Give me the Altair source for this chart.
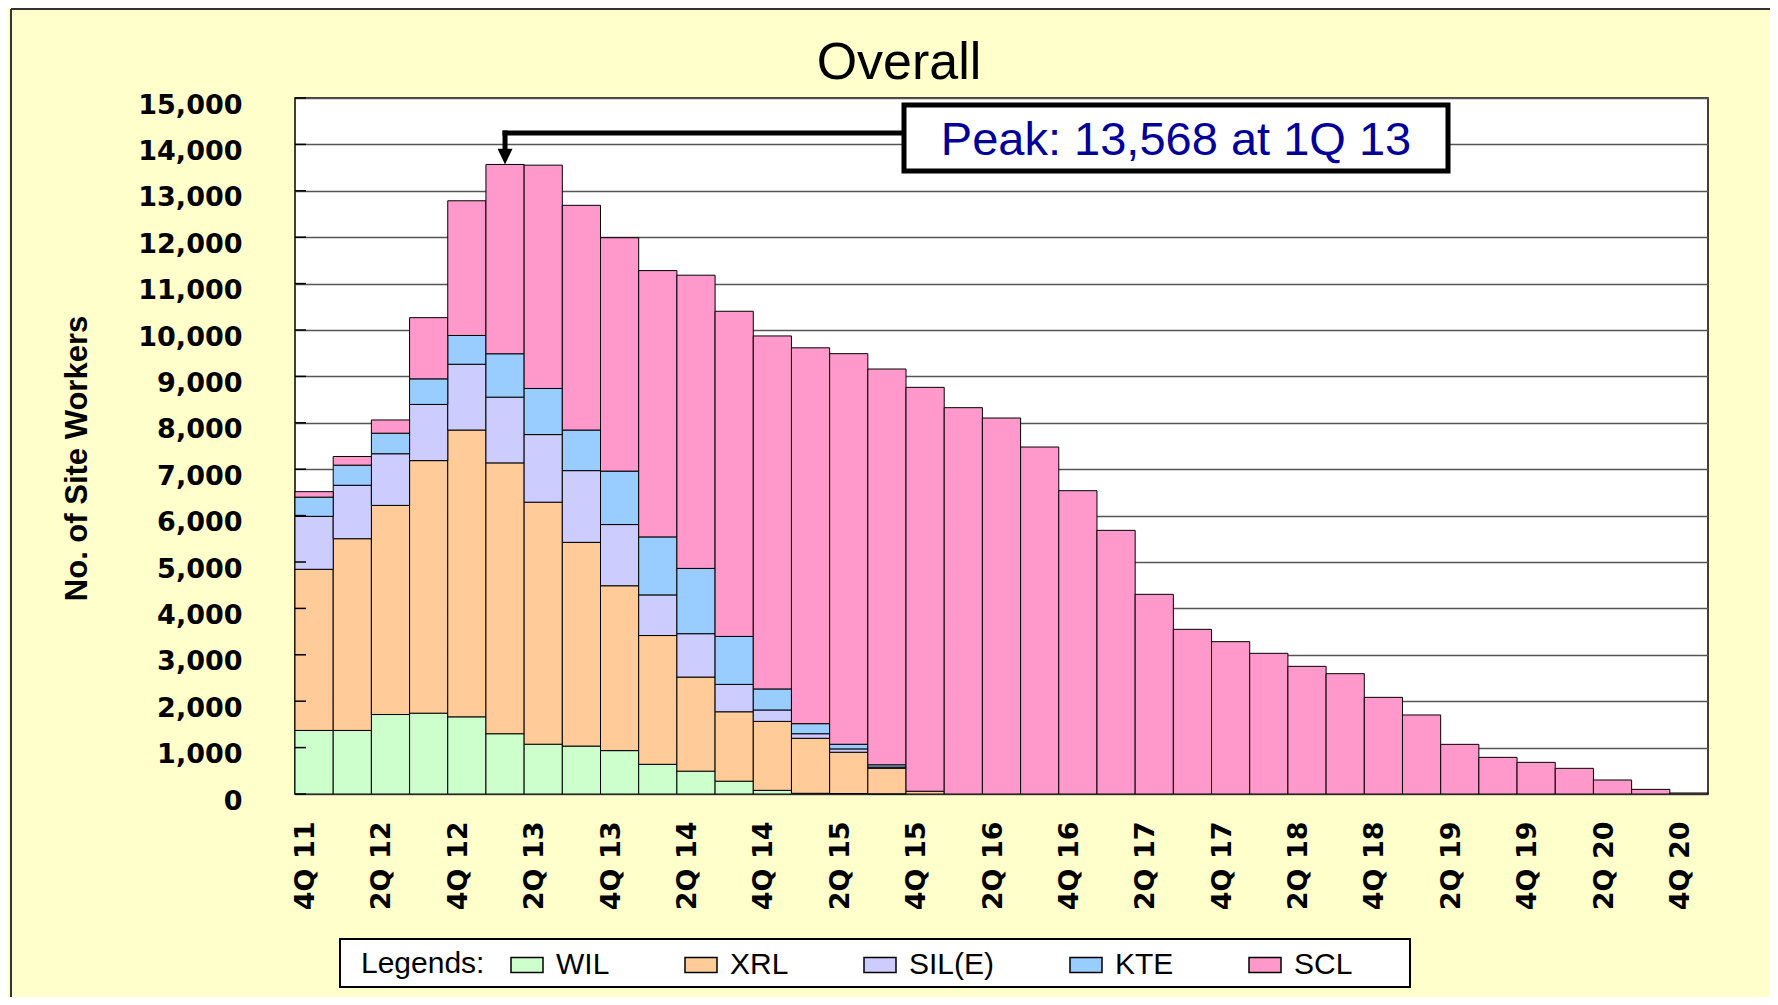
import altair as alt
import pandas as pd

# ---------------- data ----------------
quarters = ["4Q 11", "1Q 12", "2Q 12", "3Q 12", "4Q 12", "1Q 13", "2Q 13", "3Q 13",
            "4Q 13", "1Q 14", "2Q 14", "3Q 14", "4Q 14", "1Q 15", "2Q 15", "3Q 15",
            "4Q 15", "1Q 16", "2Q 16", "3Q 16", "4Q 16", "1Q 17", "2Q 17", "3Q 17",
            "4Q 17", "1Q 18", "2Q 18", "3Q 18", "4Q 18", "1Q 19", "2Q 19", "3Q 19",
            "4Q 19", "1Q 20", "2Q 20", "3Q 20", "4Q 20"]

WIL = [1370, 1370, 1713, 1742, 1663, 1299, 1073, 1033, 935, 640, 492, 276, 79, 15, 10, 5,
       0, 0, 0, 0, 0, 0, 0, 0, 0, 0, 0, 0, 0, 0, 0, 0, 0, 0, 0, 0, 0]
XRL = [3473, 4132, 4507, 5443, 6181, 5837, 5216, 4390, 3553, 2775, 2028, 1496, 1486, 1186, 890, 550,
       60, 0, 0, 0, 0, 0, 0, 0, 0, 0, 0, 0, 0, 0, 0, 0, 0, 0, 0, 0, 0]
SIL = [1141, 1152, 1113, 1211, 1418, 1417, 1457, 1546, 1319, 876, 935, 590, 246, 98, 72, 25,
       0, 0, 0, 0, 0, 0, 0, 0, 0, 0, 0, 0, 0, 0, 0, 0, 0, 0, 0, 0, 0]
KTE = [414, 433, 443, 551, 620, 935, 994, 875, 1152, 1250, 1407, 1034, 453, 217, 100, 50,
       0, 0, 0, 0, 0, 0, 0, 0, 0, 0, 0, 0, 0, 0, 0, 0, 0, 0, 0, 0, 0]
SCL = [118, 187, 285, 1319, 2903, 4080, 4813, 4843, 5029, 5739, 6319, 7008, 7608, 8100, 8418, 8529,
       8704, 8326, 8103, 7478, 6537, 5682, 4303, 3549, 3283, 3032, 2751, 2593, 2083, 1703, 1070, 790,
       682, 553, 302, 100, 22]

series_names = ["WIL", "XRL", "SIL(E)", "KTE", "SCL"]
series_colors = ["#CCFFCC", "#FFCC99", "#CCCCFF", "#99CCFF", "#FF99CC"]
y_ticks = [0, 1000, 2000, 3000, 4000, 5000, 6000, 7000, 8000, 9000, 10000,
           11000, 12000, 13000, 14000, 15000]
label_quarters = quarters[::2]
peak_value = 13568
peak_quarter = "1Q 13"
chart_title = "Overall"
y_title = "No. of Site Workers"
legend_title = "Legends:"

# ---------------- tables ----------------
rows = []
for idx, (name, vals) in enumerate(zip(series_names, [WIL, XRL, SIL, KTE, SCL])):
    for q, v in zip(quarters, vals):
        if v > 0:
            rows.append({"quarter": q, "series": name, "workers": v, "order": idx})
df = pd.DataFrame(rows)
ticks_df = pd.DataFrame({"workers": y_ticks})
peak_df = pd.DataFrame({"quarter": [peak_quarter], "workers": [peak_value],
                        "label": [f"Peak: {peak_value:,} at {peak_quarter}"]})
one_df = pd.DataFrame({"t": [chart_title]})

x_scale = alt.Scale(domain=quarters, paddingInner=0, paddingOuter=0)
y_scale = alt.Scale(domain=[0, 15000], nice=False)

# frame lines (left and top edge of the slide frame)
frame_left = alt.Chart(one_df).mark_rule(color="#333333", strokeWidth=2).encode(
    x=alt.value(-284), y=alt.value(-89), y2=alt.value(1000))
frame_top = alt.Chart(one_df).mark_rule(color="#333333", strokeWidth=2).encode(
    x=alt.value(-284), x2=alt.value(1700), y=alt.value(-89))

title_text = alt.Chart(one_df).mark_text(
    font="Liberation Sans", fontSize=52, color="black", align="center", baseline="alphabetic"
).encode(x=alt.value(604), y=alt.value(-19), text="t:N")

legend_box = alt.Chart(one_df).mark_rect(fill="white", stroke="black", strokeWidth=2).encode(
    x=alt.value(45), x2=alt.value(1115), y=alt.value(841), y2=alt.value(889))

bars = alt.Chart(df).mark_bar(stroke="black", strokeWidth=1).encode(
    x=alt.X("quarter:N", scale=x_scale,
            axis=alt.Axis(values=label_quarters, labelAngle=270, labelAlign="right",
                          labelBaseline="middle", labelFont="DejaVu Sans", labelFontWeight="bold",
                          labelFontSize=27, labelColor="black", labelPadding=27, labelOffset=-8,
                          labelOverlap=False, ticks=False, domain=False, grid=False, title=None)),
    y=alt.Y("workers:Q", stack="zero", scale=y_scale,
            axis=alt.Axis(values=y_ticks, format=",d", labelFont="DejaVu Sans",
                          labelFontWeight="bold", labelFontSize=27, labelColor="black",
                          labelPadding=53, labelOffset=7, labelOverlap=False, ticks=False,
                          domain=False, grid=True, gridColor="#555555", gridWidth=1.5,
                          title=y_title, titleFont="Liberation Sans", titleFontSize=31,
                          titleFontWeight="bold", titleColor="black", titleAngle=270,
                          titleX=-218, titleY=360, titleAlign="center", titleBaseline="middle")),
    color=alt.Color("series:N", scale=alt.Scale(domain=series_names, range=series_colors),
                    legend=alt.Legend(title=legend_title, orient="none", legendX=66, legendY=850,
                                      direction="horizontal", columns=5, titleOrient="left",
                                      titleFont="Liberation Sans", titleFontSize=30,
                                      titleFontWeight="normal", titleColor="black", titlePadding=25,
                                      labelFont="Liberation Sans", labelFontSize=30,
                                      labelColor="black", labelOffset=12, columnPadding=72,
                                      symbolType="M-1,-0.47H1V0.47H-1Z", symbolSize=1024,
                                      symbolStrokeColor="black", symbolStrokeWidth=1.5,
                                      symbolOpacity=1, padding=0)),
    order=alt.Order("order:Q", sort="ascending"),
)

inner_ticks = alt.Chart(ticks_df).mark_rule(color="black", strokeWidth=1.5).encode(
    y=alt.Y("workers:Q", scale=y_scale), x=alt.value(0), x2=alt.value(11))

conn_v = alt.Chart(peak_df).mark_rule(color="black", strokeWidth=5, strokeCap="square", yOffset=-14).encode(
    x=alt.X("quarter:N", scale=x_scale),
    y=alt.Y("workers:Q", scale=y_scale), y2=alt.value(35))

conn_h = alt.Chart(peak_df).mark_rule(color="black", strokeWidth=5, strokeCap="square").encode(
    x=alt.X("quarter:N", scale=x_scale), x2=alt.value(609), y=alt.value(35))

arrow = alt.Chart(peak_df).mark_point(shape="M-1,-2.1L1,-2.1L0,0Z", size=225, filled=True,
                                      color="black", opacity=1).encode(
    x=alt.X("quarter:N", scale=x_scale),
    y=alt.Y("workers:Q", scale=y_scale))

box = alt.Chart(peak_df).mark_rect(fill="white", stroke="black", strokeWidth=5).encode(
    x=alt.value(609), x2=alt.value(1153), y=alt.value(7), y2=alt.value(73))

box_text = alt.Chart(peak_df).mark_text(font="Liberation Sans", fontSize=47, color="#000099",
                                        align="center", baseline="middle").encode(
    x=alt.value(881), y=alt.value(43), text="label:N")

chart = alt.layer(bars, frame_left, frame_top, title_text, legend_box, inner_ticks,
                  conn_h, conn_v, arrow, box, box_text).properties(
    width=1413, height=696,
    autosize=alt.AutoSizeParams(type="none"),
    padding={"left": 287, "top": 90, "right": 62, "bottom": 203},
    background="#FFFFCC",
).configure_view(fill="white", stroke="black", strokeWidth=1.5)

chart.save("out.html", embed_options={"renderer": "svg", "actions": False})
